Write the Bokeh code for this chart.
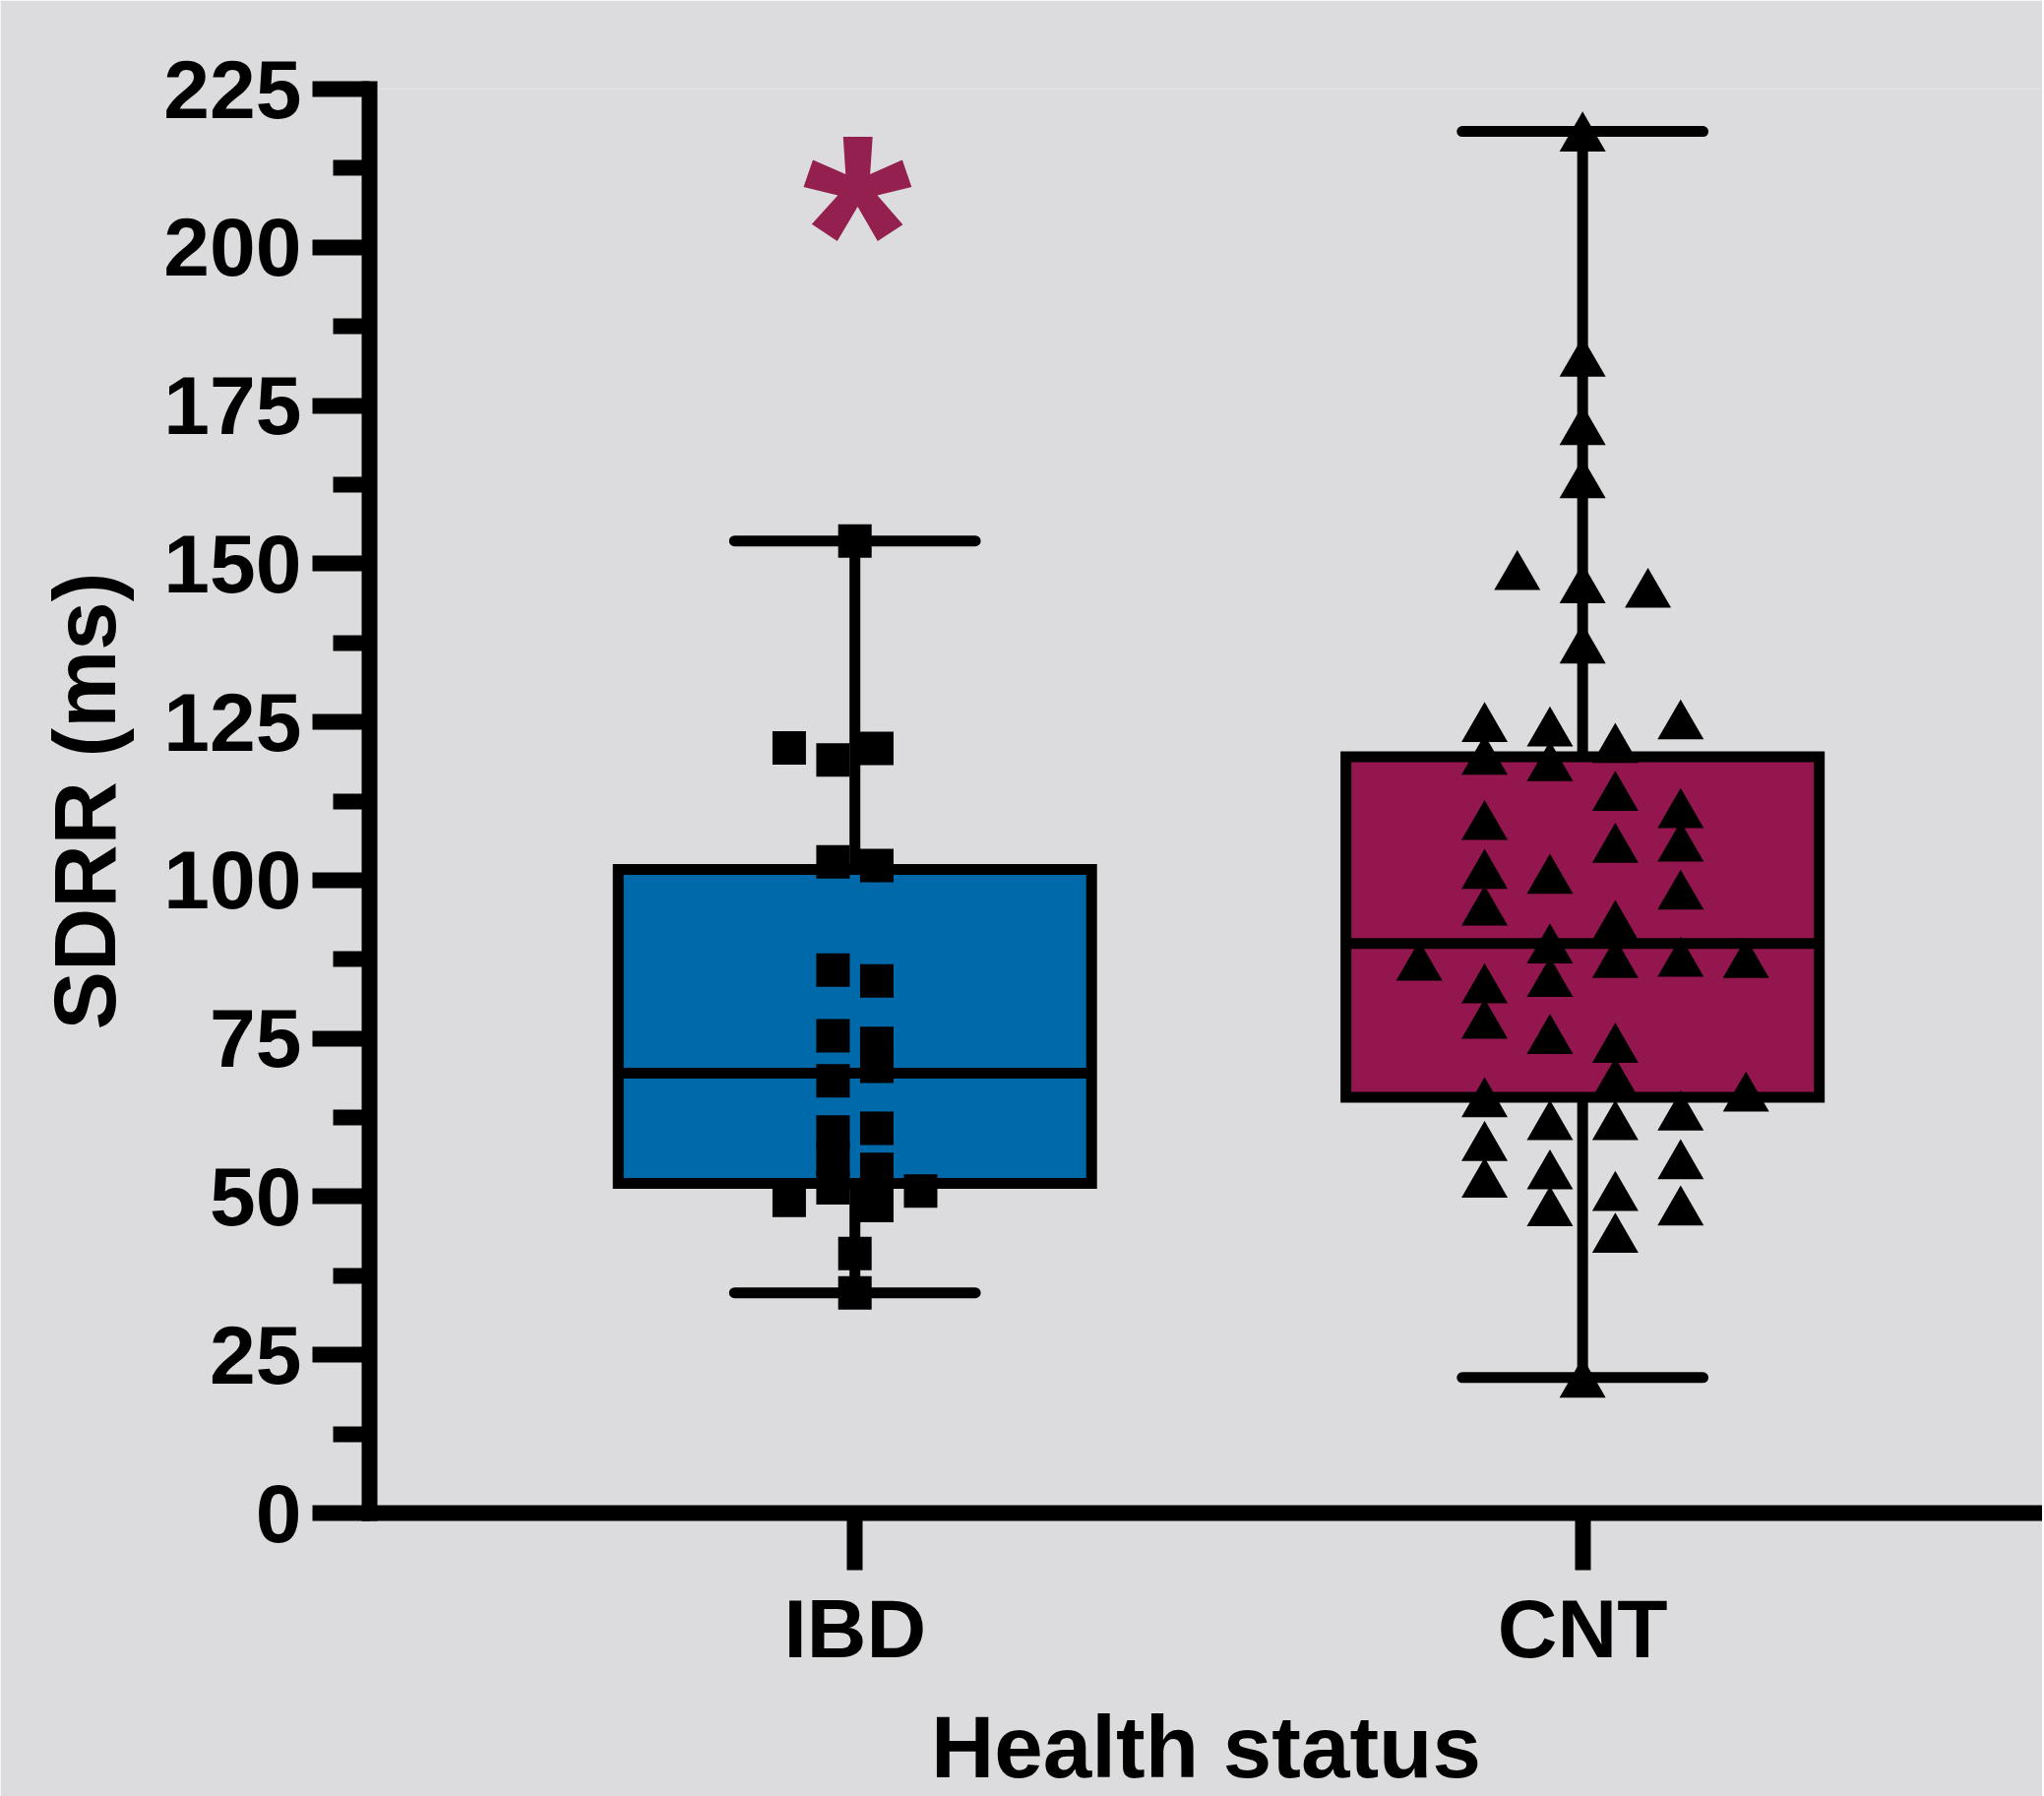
from bokeh.plotting import figure
from bokeh.models import FixedTicker, ColumnDataSource, HTMLLabel
from bokeh.transform import dodge
from bokeh.embed import file_html
from bokeh.resources import INLINE

# ---------------- data ----------------
CATEGORIES = ["IBD", "CNT"]
CAT_X = [1, 2]

# box-and-whisker summary (min, Q1, median, Q3, max)
BOX_LOW = [34.8, 21.4]
BOX_Q1 = [52.1, 65.7]
BOX_MED = [69.5, 90.0]
BOX_Q3 = [101.7, 119.5]
BOX_HIGH = [153.6, 218.3]

# IBD individual values (squares) and their scatter lane
IBD_VALUES = [153.6, 41.0, 34.8,
              120.9, 49.4,
              119.0, 102.9, 85.8, 75.4, 68.3, 60.2, 55.9, 51.4,
              120.8, 102.3, 84.1, 74.2, 70.6, 60.8, 54.3, 48.6,
              50.9]
IBD_LANES = [0, 0, 0,
             -3, -3,
             -1, -1, -1, -1, -1, -1, -1, -1,
             1, 1, 1, 1, 1, 1, 1, 1,
             3]

# CNT individual values (triangles) and their scatter lane
CNT_VALUES = [218.3, 182.7, 171.9, 163.5, 146.9, 137.4, 21.4,
              149.0,
              146.2,
              125.0, 119.8, 109.5, 101.8, 96.0, 83.7, 78.1, 65.7, 58.8, 53.0,
              124.3, 118.8, 101.0, 90.0, 84.7, 75.7, 62.1, 54.3, 48.5,
              121.7, 114.1, 105.9, 93.7, 87.7, 74.3, 68.8, 62.1, 50.9, 44.3,
              125.4, 111.4, 106.1, 98.5, 87.9, 63.6, 55.9, 48.6,
              87.3,
              87.7, 66.6]
CNT_LANES = [0, 0, 0, 0, 0, 0, 0,
             -2,
             2,
             -3, -3, -3, -3, -3, -3, -3, -3, -3, -3,
             -1, -1, -1, -1, -1, -1, -1, -1, -1,
             1, 1, 1, 1, 1, 1, 1, 1, 1, 1,
             3, 3, 3, 3, 3, 3, 3, 3,
             -5,
             5, 5]

Y_TICKS = [0, 25, 50, 75, 100, 125, 150, 175, 200, 225]
Y_MINOR = [12.5, 37.5, 62.5, 87.5, 112.5, 137.5, 162.5, 187.5, 212.5]
SIG_MARK = "*"
X_TITLE = "Health status"
Y_TITLE = "SDRR (ms)"

# ---------------- styling ----------------
BG = "#DCDCDE"
BOX_COLORS = ["#0069AA", "#93164E"]
STAR_COLOR = "#93204F"
FONT = "Liberation Sans"
BOX_W = 0.6505
CAP_W = 0.331
IBD_LANE_STEP = 0.0301
CNT_LANE_STEP = 0.0449
TRI_SHIFT = -1.05
STAR_X = 1.004        # star box centre (x units)
STAR_TOP = 227.6      # top of the star's text box (y units)

p = figure(frame_width=1700, frame_height=1447,
           x_range=(0.333, 2.632), y_range=(0, 225),
           min_border_left=375, min_border_right=0,
           min_border_top=90, min_border_bottom=286,
           output_backend="svg", toolbar_location=None)

p.background_fill_color = BG
p.border_fill_color = BG
p.outline_line_color = None
p.xgrid.visible = False
p.ygrid.visible = False

# boxes
box_src = ColumnDataSource(dict(
    x=CAT_X, q1=BOX_Q1, q3=BOX_Q3, med=BOX_MED, low=BOX_LOW, high=BOX_HIGH,
    color=BOX_COLORS,
    xl=[c - BOX_W / 2 for c in CAT_X], xr=[c + BOX_W / 2 for c in CAT_X],
    cl=[c - CAP_W / 2 for c in CAT_X], cr=[c + CAP_W / 2 for c in CAT_X]))

p.vbar(x="x", width=BOX_W, bottom="q1", top="q3", source=box_src,
       fill_color="color", line_color="black", line_width=11, line_join="miter")
p.segment(x0="xl", x1="xr", y0="med", y1="med", source=box_src,
          line_color="black", line_width=11)
p.segment(x0="x", x1="x", y0="q3", y1="high", source=box_src,
          line_color="black", line_width=11)
p.segment(x0="x", x1="x", y0="low", y1="q1", source=box_src,
          line_color="black", line_width=11)
p.segment(x0="cl", x1="cr", y0="high", y1="high", source=box_src,
          line_color="black", line_width=11, line_cap="round")
p.segment(x0="cl", x1="cr", y0="low", y1="low", source=box_src,
          line_color="black", line_width=11, line_cap="round")

# points
ibd_src = ColumnDataSource(dict(
    x=[CAT_X[0] + l * IBD_LANE_STEP for l in IBD_LANES], y=IBD_VALUES))
p.scatter(x="x", y="y", source=ibd_src, marker="square", size=34,
          fill_color="black", line_color=None)

cnt_src = ColumnDataSource(dict(
    x=[CAT_X[1] + l * CNT_LANE_STEP for l in CNT_LANES], y=CNT_VALUES))
p.scatter(x="x", y=dodge("y", TRI_SHIFT), source=cnt_src, marker="triangle",
          size=47, fill_color="black", line_color=None)

# axes
for ax in (p.xaxis[0], p.yaxis[0]):
    ax.axis_line_color = "black"
    ax.axis_line_width = 16
    ax.axis_line_cap = "square"
    ax.major_tick_line_color = "black"
    ax.major_tick_line_width = 16
    ax.major_tick_out = 58
    ax.major_tick_in = 0
    ax.minor_tick_line_color = "black"
    ax.minor_tick_line_width = 16
    ax.minor_tick_out = 37
    ax.minor_tick_in = 0
    ax.major_label_text_font = FONT
    ax.major_label_text_font_style = "bold"
    ax.major_label_text_font_size = "84px"
    ax.major_label_text_color = "black"
    ax.axis_label_text_font = FONT
    ax.axis_label_text_font_style = "bold"
    ax.axis_label_text_font_size = "89px"
    ax.axis_label_text_color = "black"

p.xaxis.ticker = FixedTicker(ticks=CAT_X, minor_ticks=[])
p.xaxis.major_label_overrides = {c: n for c, n in zip(CAT_X, CATEGORIES)}
p.xaxis.major_label_standoff = 12
p.xaxis.axis_label = X_TITLE
p.xaxis.axis_label_standoff = 20

p.yaxis.ticker = FixedTicker(ticks=Y_TICKS, minor_ticks=Y_MINOR)
p.yaxis.major_label_standoff = 11
p.yaxis.axis_label = Y_TITLE
p.yaxis.axis_label_standoff = 27

# significance mark
star = HTMLLabel(x=STAR_X, y=STAR_TOP, text=SIG_MARK, text_align="center",
                 text_baseline="top", text_font=FONT, text_font_style="bold",
                 text_font_size="285px", text_color=STAR_COLOR)
p.add_layout(star)

open("out.html", "w").write(file_html(p, INLINE))
